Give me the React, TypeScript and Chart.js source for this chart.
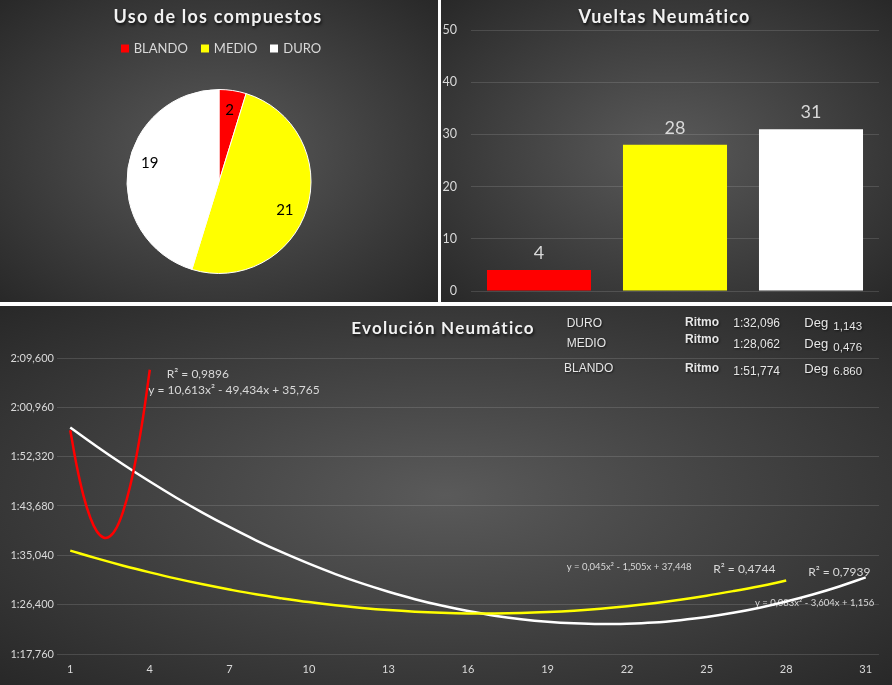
import React, { useEffect, useRef } from 'react';
import { Chart, registerables } from 'chart.js';

Chart.register(...registerables);
Chart.defaults.font.family = 'Lato, "Open Sans", sans-serif';

// ---------------- Data ----------------
const compoundLabels = ['BLANDO', 'MEDIO', 'DURO'];
const compoundColors = ['#ff0000', '#ffff00', '#ffffff'];
const compoundUsage = [2, 21, 19];
const tyreLaps = [4, 28, 31];
const barAxisTicks = [0, 10, 20, 30, 40, 50];

const blandoLap = [1, 1.25, 1.5, 1.75, 2, 2.25, 2.5, 2.75, 3, 3.25, 3.5, 3.75, 4];
const blandoTime = [116.96, 110.55, 105.46, 101.7, 99.26, 98.16, 98.38, 99.92, 102.81, 107.0, 112.52, 119.37, 127.55];

const medioLap = [1, 2, 3, 4, 5, 6, 7, 8, 9, 10, 11, 12, 13, 14, 15, 16, 17, 18, 19, 20, 21, 22, 23, 24, 25, 26, 27, 28];
const medioTime = [95.87, 94.5, 93.23, 92.06, 90.96, 89.96, 89.05, 88.21, 87.5, 86.85, 86.29, 85.83, 85.45, 85.17, 84.98, 84.87, 84.86, 84.93, 85.1, 85.35, 85.69, 86.13, 86.66, 87.27, 87.97, 88.77, 89.64, 90.62];

const duroLap = [1, 2, 3, 4, 5, 6, 7, 8, 9, 10, 11, 12, 13, 14, 15, 16, 17, 18, 19, 20, 21, 22, 23, 24, 25, 26, 27, 28, 29, 30, 31];
const duroTime = [117.43, 114.11, 110.95, 107.96, 105.13, 102.49, 100.01, 97.68, 95.54, 93.58, 91.76, 90.13, 88.67, 87.36, 86.24, 85.28, 84.47, 83.86, 83.41, 83.13, 83.0, 83.07, 83.28, 83.69, 84.24, 84.98, 85.87, 86.95, 88.18, 89.59, 91.18];

const lapTicks = [1, 4, 7, 10, 13, 16, 19, 22, 25, 28, 31];
const timeTicks = [77.76, 86.4, 95.04, 103.68, 112.32, 120.96, 129.6];

const trendTexts = ['R² = 0,9896', 'y = 10,613x² - 49,434x + 35,765', 'y = 0,045x² - 1,505x + 37,448', 'R² = 0,4744', 'R² = 0,7939', 'y = 0,083x² - 3,604x + 1,156'];
const trendAnchorLap = [4.64, 3.94, 19.72, 25.25, 28.83, 26.82];
const trendAnchorTime = [126.75, 123.95, 92.97, 92.62, 92.02, 86.78];
const trendFontSize = [12, 12, 9.5, 12, 12, 9.5];

const summaryCompound = ['DURO', 'MEDIO', 'BLANDO'];
const summaryPace = ['1:32,096', '1:28,062', '1:51,774'];
const summaryDeg = ['1,143', '0,476', '6.860'];

// ---------------- Styling helpers ----------------
const TEXT = '#d9d9d9';
const GRID = 'rgba(217,217,217,0.16)';
const panelBg = 'radial-gradient(ellipse at center, #5a5a5a 0%, #3c3c3c 60%, #282828 100%)';

function formatLapTime(v: number) {
  const total = Math.round(v * 1000);
  const m = Math.floor(total / 60000);
  const s = Math.floor((total % 60000) / 1000);
  const ms = total % 1000;
  return `${m}:${String(s).padStart(2, '0')},${String(ms).padStart(3, '0')}`;
}

const pieLabelPlugin = {
  id: 'pieLabels',
  afterDatasetsDraw(chart: any) {
    const ctx = chart.ctx;
    const meta = chart.getDatasetMeta(0);
    const values = chart.data.datasets[0].data;
    ctx.save();
    ctx.font = '15px Lato';
    ctx.fillStyle = '#000000';
    ctx.textAlign = 'center';
    ctx.textBaseline = 'middle';
    meta.data.forEach((arc: any, i: number) => {
      const p = arc.getProps(['x', 'y', 'startAngle', 'endAngle', 'outerRadius'], true);
      const mid = (p.startAngle + p.endAngle) / 2 + (i === 0 ? 0 : 0.11);
      const r = p.outerRadius * 0.78;
      ctx.fillText(String(values[i]), p.x + Math.cos(mid) * r, p.y + Math.sin(mid) * r);
    });
    ctx.restore();
  },
};

const barLabelPlugin = {
  id: 'barLabels',
  afterDatasetsDraw(chart: any) {
    const ctx = chart.ctx;
    const meta = chart.getDatasetMeta(0);
    const values = chart.data.datasets[0].data;
    ctx.save();
    ctx.font = '18px Lato';
    ctx.fillStyle = TEXT;
    ctx.textAlign = 'center';
    ctx.textBaseline = 'middle';
    meta.data.forEach((bar: any, i: number) => {
      ctx.fillText(String(values[i]), bar.x, bar.y - 17);
    });
    ctx.restore();
  },
};

const trendLabelPlugin = {
  id: 'trendLabels',
  beforeDatasetsDraw(chart: any) {
    const ctx = chart.ctx;
    const xs = chart.scales.x;
    const ys = chart.scales.y;
    ctx.save();
    ctx.fillStyle = TEXT;
    ctx.textAlign = 'left';
    ctx.textBaseline = 'middle';
    trendTexts.forEach((t, i) => {
      ctx.font = `${trendFontSize[i]}px Lato`;
      ctx.fillText(t, xs.getPixelForValue(trendAnchorLap[i]), ys.getPixelForValue(trendAnchorTime[i]));
    });
    ctx.restore();
  },
};

// ---------------- Components ----------------
const titleStyle = (top: number, width: number, size: number): React.CSSProperties => ({
  position: 'absolute',
  left: 0,
  width,
  top,
  transform: 'translateY(-50%)',
  textAlign: 'center',
  font: `bold ${size}px Lato, sans-serif`,
  letterSpacing: '1.2px',
  color: '#f2f2f2',
  textShadow: '1px 2px 3px rgba(0,0,0,0.75)',
  lineHeight: 1,
  whiteSpace: 'nowrap',
});

function PiePanel() {
  const ref = useRef<HTMLCanvasElement>(null);
  useEffect(() => {
    const chart = new Chart(ref.current!, {
      type: 'pie',
      data: {
        labels: compoundLabels,
        datasets: [
          {
            data: compoundUsage,
            backgroundColor: compoundColors,
            borderColor: '#ffffff',
            borderWidth: 1,
            hoverOffset: 0,
          } as any,
        ],
      },
      options: {
        responsive: false,
        animation: false,
        events: [],
        layout: { padding: { top: 89, bottom: 28, left: 0, right: 0 } },
        plugins: { legend: { display: false }, tooltip: { enabled: false } },
      } as any,
      plugins: [pieLabelPlugin],
    });
    return () => chart.destroy();
  }, []);
  return (
    <div style={{ position: 'absolute', left: 0, top: 0, width: 438, height: 302, background: panelBg, overflow: 'hidden' }}>
      <canvas ref={ref} width={438} height={302} style={{ position: 'absolute', left: 0, top: 0, width: 438, height: 302 }} />
      <div style={titleStyle(16, 436, 18)}>Uso de los compuestos</div>
      <div
        style={{
          position: 'absolute',
          left: 0,
          width: 442,
          top: 48,
          transform: 'translateY(-50%)',
          display: 'flex',
          justifyContent: 'center',
          alignItems: 'center',
          font: '13px Lato, sans-serif',
          color: TEXT,
          lineHeight: 1,
        }}
      >
        {compoundLabels.map((l, i) => (
          <div key={l} style={{ display: 'flex', alignItems: 'center', marginRight: i < compoundLabels.length - 1 ? 13 : 0 }}>
            <span style={{ display: 'inline-block', width: 8, height: 8, background: compoundColors[i], marginRight: 5 }} />
            <span>{l}</span>
          </div>
        ))}
      </div>
    </div>
  );
}

function BarPanel() {
  const ref = useRef<HTMLCanvasElement>(null);
  useEffect(() => {
    const chart = new Chart(ref.current!, {
      type: 'bar',
      data: {
        labels: compoundLabels,
        datasets: [
          {
            data: tyreLaps,
            backgroundColor: compoundColors,
            borderWidth: 0,
            barPercentage: 0.765,
            categoryPercentage: 1,
          },
        ],
      },
      options: {
        responsive: false,
        animation: false,
        events: [],
        layout: { padding: { top: 30, bottom: 0, right: 13, left: 0 } },
        plugins: { legend: { display: false }, tooltip: { enabled: false } },
        scales: {
          x: {
            display: true,
            ticks: { display: false },
            grid: { display: false },
            border: { display: false },
            afterFit: (s: any) => {
              s.height = 11;
            },
          },
          y: {
            min: 0,
            max: 50,
            afterBuildTicks: (s: any) => {
              s.ticks = barAxisTicks.map((v) => ({ value: v }));
            },
            afterFit: (s: any) => {
              s.width = 30;
              s.paddingTop = 0;
              s.paddingBottom = 0;
            },
            ticks: { color: TEXT, font: { size: 12.5 }, padding: 14 },
            grid: { color: GRID, drawTicks: false },
            border: { display: false },
          },
        },
      } as any,
      plugins: [barLabelPlugin],
    });
    return () => chart.destroy();
  }, []);
  return (
    <div style={{ position: 'absolute', left: 441, top: 0, width: 451, height: 302, background: panelBg, overflow: 'hidden' }}>
      <canvas ref={ref} width={451} height={302} style={{ position: 'absolute', left: 0, top: 0, width: 451, height: 302 }} />
      <div style={titleStyle(16, 447, 18)}>Vueltas Neumático</div>
    </div>
  );
}

const summaryTextBase: React.CSSProperties = {
  position: 'absolute',
  transform: 'translateY(-50%)',
  fontFamily: '"Liberation Sans", Arial, sans-serif',
  color: '#e6e6e6',
  lineHeight: 1,
  whiteSpace: 'nowrap',
  textShadow: '1px 1px 2px rgba(0,0,0,0.6)',
};
const summaryRowsY = [[17.3, 15.7, 17.3, 15.7, 20.7], [37.3, 33.3, 38.3, 36.7, 42.3], [62.3, 62.3, 65, 62.3, 65.7]];

function LinePanel() {
  const ref = useRef<HTMLCanvasElement>(null);
  useEffect(() => {
    const line = (label: string, laps: number[], times: number[], color: string) => ({
      label,
      data: laps.map((x, i) => ({ x, y: times[i] })),
      borderColor: color,
      backgroundColor: color,
      borderWidth: 2.5,
      pointRadius: 0,
      tension: 0.4,
      fill: false,
    });
    const chart = new Chart(ref.current!, {
      type: 'line',
      data: {
        datasets: [
          line('BLANDO', blandoLap, blandoTime, compoundColors[0]),
          line('MEDIO', medioLap, medioTime, compoundColors[1]),
          line('DURO', duroLap, duroTime, compoundColors[2]),
        ],
      },
      options: {
        responsive: false,
        animation: false,
        events: [],
        layout: { padding: { top: 52, right: 13, left: 0, bottom: 0 } },
        plugins: { legend: { display: false }, tooltip: { enabled: false } },
        scales: {
          x: {
            type: 'linear',
            min: 0.5,
            max: 31.5,
            afterBuildTicks: (s: any) => {
              s.ticks = lapTicks.map((v) => ({ value: v }));
            },
            afterFit: (s: any) => {
              s.height = 31;
            },
            grid: { display: false },
            border: { display: false },
            ticks: { color: TEXT, font: { size: 11 }, padding: 1, autoSkip: false, maxRotation: 0 },
          },
          y: {
            type: 'linear',
            min: timeTicks[0],
            max: timeTicks[timeTicks.length - 1],
            afterBuildTicks: (s: any) => {
              s.ticks = timeTicks.map((v) => ({ value: v }));
            },
            afterFit: (s: any) => {
              s.width = 57;
            },
            ticks: { color: TEXT, font: { size: 11 }, padding: 3, callback: (v: any) => formatLapTime(Number(v)) },
            grid: { color: GRID, drawTicks: false },
            border: { display: false },
          },
        },
      } as any,
      plugins: [trendLabelPlugin],
    });
    return () => chart.destroy();
  }, []);
  const cols = [
    { left: 566.7, texts: summaryCompound, size: 12, bold: false },
    { left: 685, texts: ['Ritmo', 'Ritmo', 'Ritmo'], size: 12, bold: true },
    { left: 733.3, texts: summaryPace, size: 12, bold: false },
    { left: 804.3, texts: ['Deg', 'Deg', 'Deg'], size: 13, bold: false },
    { left: 833.3, texts: summaryDeg, size: 11.5, bold: false },
  ];
  return (
    <div style={{ position: 'absolute', left: 0, top: 306, width: 892, height: 379, background: panelBg, overflow: 'hidden' }}>
      <canvas ref={ref} width={892} height={379} style={{ position: 'absolute', left: 0, top: 0, width: 892, height: 379 }} />
      <div style={titleStyle(20.5, 886, 17)}>Evolución Neumático</div>
      {cols.map((c, ci) =>
        c.texts.map((t, ri) => (
          <div
            key={`${ci}-${ri}`}
            style={{
              ...summaryTextBase,
              left: ci === 0 && ri === 2 ? c.left - 2.7 : c.left,
              top: summaryRowsY[ri][ci],
              fontSize: c.size,
              fontWeight: c.bold ? 'bold' : 'normal',
            }}
          >
            {t}
          </div>
        ))
      )}
    </div>
  );
}

export default function App() {
  return (
    <div style={{ position: 'fixed', left: 0, top: 0, width: 892, height: 685, background: '#ffffff', overflow: 'hidden' }}>
      <PiePanel />
      <BarPanel />
      <LinePanel />
    </div>
  );
}
